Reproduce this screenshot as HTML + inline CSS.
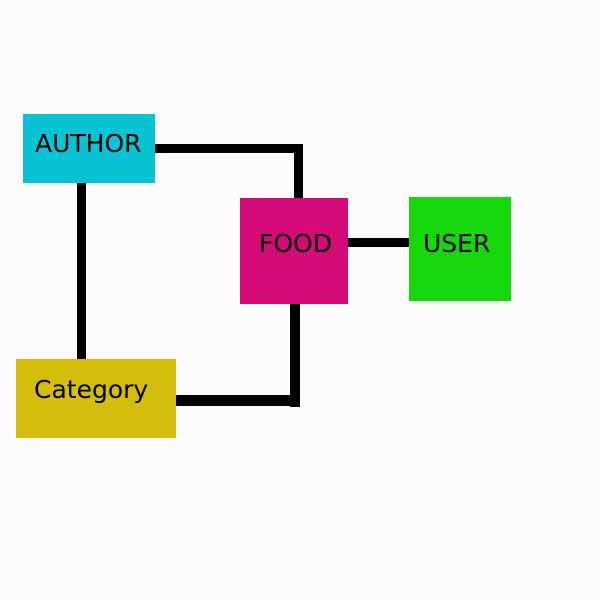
<!DOCTYPE html>
<html><head><style>
body{margin:0;background:#fcfcfc;}
.c{position:relative;width:600px;height:600px;background:#fcfcfc;font-family:"DejaVu Sans","Liberation Sans",sans-serif;}
.b{position:absolute;}
.t{position:absolute;font-size:25px;color:#000;}
.l{position:absolute;background:#000;}
</style></head><body><div class="c">
<div class="l" style="left:150px;top:144px;width:153px;height:9px"></div>
<div class="l" style="left:294px;top:144px;width:9px;height:56px"></div>
<div class="l" style="left:77px;top:180px;width:9px;height:182px"></div>
<div class="l" style="left:345px;top:238px;width:65px;height:9px"></div>
<div class="l" style="left:290px;top:300px;width:10px;height:107px"></div>
<div class="l" style="left:174px;top:395px;width:126px;height:11px"></div>
<div class="b" style="left:23px;top:114px;width:132px;height:69px;background:#08c3d4"></div>
<div class="b" style="left:240px;top:198px;width:108px;height:106px;background:#d40a77"></div>
<div class="b" style="left:409px;top:197px;width:102px;height:104px;background:#16d60c"></div>
<div class="b" style="left:16px;top:359px;width:160px;height:79px;background:#d4bd0a"></div>
<div class="t" style="left:35px;top:129px">AUTHOR</div>
<div class="t" style="left:259px;top:229px">FOOD</div>
<div class="t" style="left:423px;top:229px">USER</div>
<div class="t" style="left:34px;top:375px">Category</div>
</div></body></html>
